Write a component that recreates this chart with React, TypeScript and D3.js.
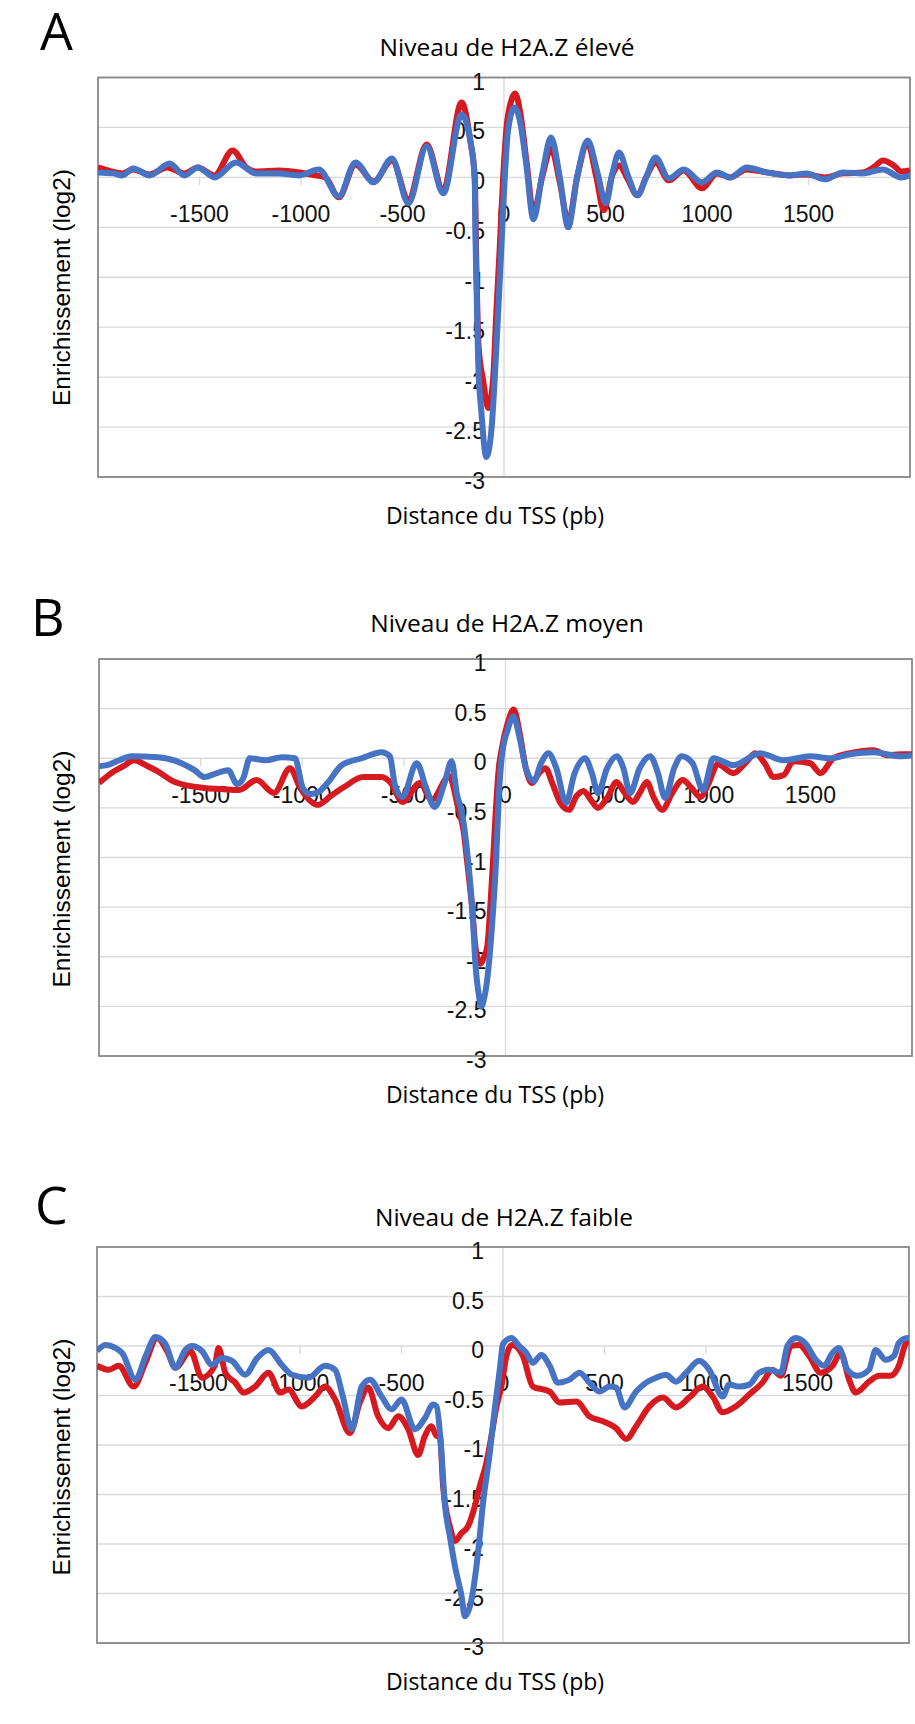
import React from "react";
import * as d3 from "d3";

// ---------- data ----------
const xTicks = [-1500, -1000, -500, 0, 500, 1000, 1500];
const yTicks = [1, 0.5, 0, -0.5, -1, -1.5, -2, -2.5, -3];
const panelLetters = ["A", "B", "C"];
const panelTitles = [
  "Niveau de H2A.Z élevé",
  "Niveau de H2A.Z moyen",
  "Niveau de H2A.Z faible",
];
const xLabel = "Distance du TSS (pb)";
const yLabel = "Enrichissement (log2)";

const aRed: [number, number][] = [
  [-2000, 0.10], [-1950, 0.07], [-1880, 0.04], [-1827, 0.08], [-1745, 0.03], [-1660, 0.10],
  [-1574, 0.04], [-1508, 0.10], [-1426, 0.02], [-1337, 0.27], [-1270, 0.10], [-1222, 0.06],
  [-1108, 0.07], [-1010, 0.05], [-930, 0.02], [-880, 0.0], [-814, -0.20], [-732, 0.13],
  [-642, -0.04], [-552, 0.17], [-471, -0.22], [-381, 0.33], [-299, -0.13], [-209, 0.75],
  [-165, 0.35], [-144, 0.0], [-136, -0.9], [-125, -1.7], [-103, -2.03], [-78, -2.31],
  [-54, -2.03], [-38, -1.36], [-21, -0.70], [-5, -0.03], [11, 0.47], [36, 0.77], [55, 0.84],
  [80, 0.65], [112, 0.14], [145, -0.35], [190, 0.02], [232, 0.29], [275, -0.05], [317, -0.45],
  [360, 0.0], [412, 0.34], [455, 0.0], [492, -0.33], [530, 0.0], [567, 0.12], [610, -0.02],
  [657, -0.18], [700, 0.0], [747, 0.15], [812, -0.03], [886, 0.07], [975, -0.11], [1049, 0.04],
  [1114, 0.0], [1196, 0.08], [1294, 0.05], [1408, 0.02], [1490, 0.03], [1580, 0.0], [1670, 0.04],
  [1768, 0.05], [1820, 0.10], [1866, 0.17], [1920, 0.12], [1956, 0.06], [2000, 0.07],
];
const aBlue: [number, number][] = [
  [-2000, 0.05], [-1925, 0.04], [-1880, 0.02], [-1827, 0.09], [-1745, 0.02], [-1647, 0.14],
  [-1574, 0.02], [-1508, 0.10], [-1426, 0.0], [-1320, 0.15], [-1222, 0.04], [-1108, 0.04],
  [-1010, 0.02], [-912, 0.08], [-814, -0.19], [-732, 0.15], [-642, -0.05], [-552, 0.19],
  [-471, -0.26], [-381, 0.31], [-299, -0.16], [-209, 0.63], [-160, 0.30], [-144, -0.03],
  [-141, -0.53], [-136, -1.03], [-127, -1.86], [-111, -2.36], [-87, -2.80], [-62, -2.53],
  [-46, -2.03], [-29, -1.36], [-13, -0.70], [3, -0.03], [20, 0.47], [52, 0.70], [80, 0.55],
  [109, 0.14], [145, -0.42], [190, 0.05], [232, 0.40], [275, 0.0], [316, -0.50], [360, 0.0],
  [412, 0.37], [460, 0.05], [502, -0.26], [535, 0.05], [567, 0.25], [610, 0.02], [657, -0.18],
  [700, 0.0], [747, 0.20], [812, -0.01], [886, 0.08], [975, -0.05], [1049, 0.05], [1114, 0.0],
  [1196, 0.10], [1294, 0.05], [1408, 0.02], [1490, 0.04], [1580, -0.02], [1670, 0.05],
  [1768, 0.04], [1866, 0.08], [1956, 0.0], [2000, 0.02],
];

const bRed: [number, number][] = [
  [-2000, -0.25], [-1940, -0.15], [-1880, -0.08], [-1829, -0.02], [-1760, -0.08], [-1713, -0.13],
  [-1627, -0.24], [-1483, -0.30], [-1400, -0.31], [-1311, -0.32], [-1225, -0.22], [-1139, -0.35],
  [-1060, -0.10], [-1010, -0.30], [-923, -0.47], [-860, -0.38], [-794, -0.29], [-700, -0.19],
  [-610, -0.19], [-564, -0.25], [-507, -0.44], [-421, -0.25], [-363, -0.42], [-277, -0.18],
  [-234, -0.49], [-205, -0.75], [-191, -1.0], [-162, -1.56], [-148, -1.90], [-125, -2.07],
  [-105, -2.0], [-90, -1.9], [-75, -1.5], [-62, -1.06], [-47, -0.5], [-33, -0.1], [-18, 0.1],
  [10, 0.35], [40, 0.49], [70, 0.25], [100, -0.1], [131, -0.25], [165, -0.15], [197, -0.10],
  [230, -0.25], [270, -0.45], [312, -0.52], [350, -0.38], [384, -0.33], [420, -0.42],
  [455, -0.50], [500, -0.40], [547, -0.24], [580, -0.33], [628, -0.44], [660, -0.35],
  [695, -0.24], [730, -0.40], [771, -0.52], [820, -0.35], [872, -0.22], [915, -0.30],
  [958, -0.39], [1000, -0.25], [1044, -0.06], [1122, -0.15], [1188, -0.03], [1229, 0.05],
  [1275, -0.05], [1319, -0.19], [1368, -0.17], [1417, -0.03], [1500, -0.05], [1549, -0.15],
  [1614, 0.0], [1696, 0.05], [1811, 0.08], [1880, 0.03], [1942, 0.04], [2000, 0.04],
];
const bBlue: [number, number][] = [
  [-2000, -0.08], [-1960, -0.07], [-1900, -0.02], [-1840, 0.02], [-1709, 0.01], [-1594, -0.05],
  [-1530, -0.12], [-1480, -0.19], [-1420, -0.15], [-1365, -0.12], [-1320, -0.26], [-1290, -0.20],
  [-1258, 0.0], [-1180, -0.02], [-1100, 0.01], [-1036, 0.0], [-997, -0.30], [-960, -0.36],
  [-920, -0.34], [-872, -0.24], [-806, -0.07], [-708, 0.0], [-609, 0.06], [-569, 0.02],
  [-544, -0.27], [-507, -0.39], [-437, -0.05], [-390, -0.30], [-349, -0.49], [-300, -0.25],
  [-265, -0.03], [-240, -0.35], [-210, -0.60], [-191, -0.90], [-162, -1.56], [-148, -2.07],
  [-130, -2.40], [-119, -2.50], [-105, -2.42], [-90, -2.23], [-62, -1.56], [-47, -1.06],
  [-33, -0.39], [-18, 0.02], [10, 0.28], [39, 0.42], [70, 0.20], [100, -0.10], [139, -0.23],
  [175, -0.05], [211, 0.05], [250, -0.10], [298, -0.45], [340, -0.15], [391, 0.0], [425, -0.15],
  [455, -0.35], [500, -0.10], [547, 0.02], [580, -0.10], [613, -0.35], [660, -0.10], [711, 0.02],
  [750, -0.15], [785, -0.40], [830, -0.10], [867, 0.02], [920, -0.05], [972, -0.32], [1023, 0.0],
  [1122, -0.07], [1253, 0.05], [1368, -0.02], [1500, 0.02], [1598, 0.0], [1696, 0.04],
  [1811, 0.06], [1942, 0.02], [2000, 0.03],
];

const cRed: [number, number][] = [
  [-2000, -0.20], [-1942, -0.24], [-1893, -0.20], [-1819, -0.41], [-1762, -0.17], [-1704, 0.08],
  [-1655, -0.05], [-1614, -0.22], [-1540, -0.05], [-1483, -0.32], [-1420, -0.20], [-1401, -0.02],
  [-1368, -0.27], [-1319, -0.37], [-1278, -0.47], [-1221, -0.41], [-1155, -0.27], [-1098, -0.47],
  [-1057, -0.44], [-991, -0.61], [-926, -0.51], [-877, -0.41], [-827, -0.54], [-754, -0.88],
  [-705, -0.57], [-664, -0.42], [-615, -0.71], [-565, -0.83], [-516, -0.71], [-467, -0.84],
  [-418, -1.10], [-385, -0.91], [-352, -0.81], [-327, -0.91], [-311, -0.91], [-295, -1.42],
  [-262, -1.82], [-237, -1.97], [-204, -1.89], [-172, -1.82], [-139, -1.62], [-115, -1.42],
  [-82, -1.18], [-57, -0.91], [-32, -0.61], [-8, -0.41], [17, -0.10], [45, 0.01], [98, -0.10],
  [147, -0.41], [230, -0.46], [279, -0.57], [361, -0.56], [426, -0.71], [492, -0.76],
  [557, -0.83], [607, -0.94], [656, -0.81], [721, -0.61], [787, -0.52], [852, -0.62],
  [918, -0.52], [983, -0.41], [1033, -0.51], [1082, -0.67], [1147, -0.61], [1213, -0.49],
  [1278, -0.37], [1327, -0.24], [1369, -0.30], [1418, 0.0], [1459, 0.01], [1508, -0.10],
  [1565, -0.27], [1623, -0.20], [1664, -0.07], [1705, -0.34], [1737, -0.47], [1803, -0.36],
  [1852, -0.30], [1909, -0.30], [1950, -0.20], [1983, 0.02], [2000, 0.05],
];
const cBlue: [number, number][] = [
  [-2000, -0.05], [-1958, 0.01], [-1909, -0.02], [-1876, -0.07], [-1811, -0.34], [-1760, -0.10],
  [-1712, 0.09], [-1663, 0.02], [-1614, -0.22], [-1565, -0.04], [-1532, 0.0], [-1483, -0.05],
  [-1434, -0.19], [-1384, -0.12], [-1335, -0.15], [-1270, -0.29], [-1210, -0.12], [-1155, -0.04],
  [-1090, -0.19], [-1040, -0.29], [-959, -0.32], [-877, -0.20], [-827, -0.24], [-790, -0.50],
  [-745, -0.84], [-696, -0.41], [-655, -0.34], [-598, -0.51], [-549, -0.64], [-500, -0.54],
  [-434, -0.84], [-385, -0.73], [-344, -0.59], [-327, -0.61], [-303, -1.08], [-287, -1.58],
  [-262, -1.92], [-237, -2.22], [-204, -2.53], [-188, -2.73], [-155, -2.56], [-123, -2.09],
  [-98, -1.58], [-65, -1.08], [-41, -0.64], [-16, -0.24], [0, 0.02], [41, 0.08], [80, 0.0],
  [115, -0.07], [147, -0.17], [189, -0.09], [230, -0.20], [270, -0.37], [328, -0.34],
  [377, -0.27], [426, -0.37], [475, -0.46], [525, -0.41], [557, -0.42], [598, -0.62],
  [656, -0.46], [705, -0.37], [754, -0.32], [803, -0.29], [852, -0.36], [902, -0.27],
  [967, -0.15], [1016, -0.24], [1082, -0.51], [1114, -0.39], [1164, -0.41], [1213, -0.39],
  [1262, -0.27], [1311, -0.24], [1369, -0.27], [1401, 0.0], [1443, 0.08], [1492, 0.02],
  [1541, -0.14], [1582, -0.20], [1623, -0.07], [1655, -0.02], [1696, -0.24], [1745, -0.30],
  [1803, -0.24], [1836, -0.04], [1885, -0.14], [1926, -0.10], [1950, 0.03], [1991, 0.08],
  [2000, 0.08],
];

const redSeries = [aRed, bRed, cRed];
const blueSeries = [aBlue, bBlue, cBlue];

// ---------- layout ----------
const W = 915;
const H = 1724;
const layouts = [
  { left: 98, right: 910, top: 77.5, bottom: 477, letterX: 40, letterY: 50, titleX: 507, titleY: 56 },
  { left: 99, right: 912, top: 659, bottom: 1056, letterX: 31, letterY: 636, titleX: 507, titleY: 632 },
  { left: 97, right: 909, top: 1247, bottom: 1643, letterX: 35, letterY: 1224, titleX: 504, titleY: 1226 },
];

const RED = "#d71920";
const BLUE = "#4673c4";
const GRID = "#d9d9d9";
const BORDER = "#8a8a8a";
const SANS = "'Liberation Sans', Arial, sans-serif";
const HUMAN = "'Open Sans', 'Noto Sans', sans-serif";

function Panel({ i }: { i: number }) {
  const L = layouts[i];
  const x = d3.scaleLinear().domain([-2000, 2000]).range([L.left, L.right]);
  const y = d3.scaleLinear().domain([1, -3]).range([L.top, L.bottom]);
  const line = d3
    .line<[number, number]>()
    .x((d) => x(d[0]))
    .y((d) => y(d[1]))
    .curve(d3.curveMonotoneX);
  const clipId = `clip-${i}`;
  const x0 = x(0);
  const y0 = y(0);
  return (
    <g>
      <defs>
        <clipPath id={clipId}>
          <rect x={L.left} y={L.top} width={L.right - L.left} height={L.bottom - L.top} />
        </clipPath>
      </defs>
      <rect x={L.left} y={L.top} width={L.right - L.left} height={L.bottom - L.top} fill="#ffffff" />
      {yTicks.map((t) => (
        <line key={"g" + t} x1={L.left} x2={L.right} y1={y(t)} y2={y(t)} stroke={GRID} strokeWidth={1.3} />
      ))}
      <line x1={x0} x2={x0} y1={L.top} y2={L.bottom} stroke={GRID} strokeWidth={1.3} />
      {xTicks.map((t) => (
        <line key={"t" + t} x1={x(t)} x2={x(t)} y1={y0} y2={y0 + 8} stroke={GRID} strokeWidth={1.3} />
      ))}
      <rect
        x={L.left}
        y={L.top}
        width={L.right - L.left}
        height={L.bottom - L.top}
        fill="none"
        stroke={BORDER}
        strokeWidth={1.8}
      />
      {yTicks.map((t) => (
        <text
          key={"yl" + t}
          x={x0 - 19}
          y={y(t) + 4}
          textAnchor="end"
          dominantBaseline="central"
          fontFamily={SANS}
          fontSize={23}
          fill="#111"
        >
          {String(t)}
        </text>
      ))}
      {xTicks.map((t) => (
        <text
          key={"xl" + t}
          x={x(t)}
          y={y0 + 37}
          textAnchor="middle"
          dominantBaseline="central"
          fontFamily={SANS}
          fontSize={23}
          fill="#111"
        >
          {String(t)}
        </text>
      ))}
      <g clipPath={`url(#${clipId})`}>
        <path d={line(redSeries[i]) || ""} fill="none" stroke={RED} strokeWidth={6} strokeLinejoin="round" />
        <path d={line(blueSeries[i]) || ""} fill="none" stroke={BLUE} strokeWidth={6} strokeLinejoin="round" />
      </g>
      <text x={L.letterX} y={L.letterY} fontFamily={HUMAN} fontSize={52} fill="#000">
        {panelLetters[i]}
      </text>
      <text x={L.titleX} y={L.titleY} textAnchor="middle" fontFamily={HUMAN} fontSize={24.5} fill="#000">
        {panelTitles[i]}
      </text>
      <text x={495} y={L.bottom + 47} textAnchor="middle" fontFamily={HUMAN} fontSize={23} fill="#000">
        {xLabel}
      </text>
      <text
        transform={`translate(70, ${L.top + 210}) rotate(-90)`}
        textAnchor="middle"
        fontFamily={SANS}
        fontSize={24.5}
        fill="#000"
      >
        {yLabel}
      </text>
    </g>
  );
}

export default function App() {
  return (
    <svg
      width={W}
      height={H}
      viewBox={`0 0 ${W} ${H}`}
      style={{ position: "absolute", left: 0, top: 0, display: "block", background: "#ffffff" }}
    >
      {[0, 1, 2].map((i) => (
        <Panel key={i} i={i} />
      ))}
    </svg>
  );
}
